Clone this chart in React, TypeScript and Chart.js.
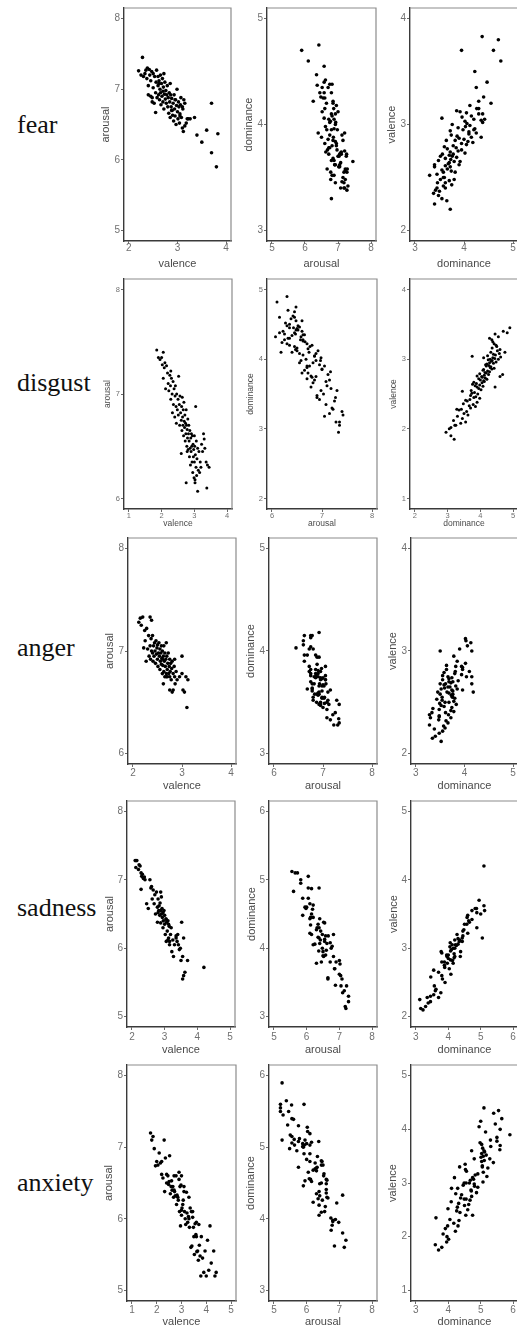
import React, { useEffect, useRef } from "react";
import { Chart, registerables } from "chart.js";

Chart.register(...registerables);

// ---------------- data ----------------
const emotions = ["fear", "disgust", "anger", "sadness", "anxiety"];
const dimensionNames = ["valence", "arousal", "dominance"];

// tick labels per emotion row
const valenceTicks = [[2, 3, 4], [1, 2, 3, 4], [2, 3, 4], [2, 3, 4, 5], [1, 2, 3, 4, 5]];
const arousalTicks = [[5, 6, 7, 8], [6, 7, 8], [6, 7, 8], [5, 6, 7, 8], [5, 6, 7, 8]];
const dominanceTicks = [[3, 4, 5], [2, 3, 4, 5], [3, 4, 5], [3, 4, 5, 6], [3, 4, 5, 6]];

const fearValence = [
  2.20, 2.28, 2.25, 2.30, 2.33, 2.35, 2.37, 2.38, 2.40, 2.40,
  2.42, 2.43, 2.45, 2.45, 2.47, 2.48, 2.50, 2.50, 2.52, 2.53,
  2.55, 2.55, 2.56, 2.57, 2.58, 2.60, 2.60, 2.61, 2.62, 2.63,
  2.64, 2.65, 2.65, 2.66, 2.67, 2.68, 2.69, 2.70, 2.70, 2.71,
  2.72, 2.73, 2.74, 2.75, 2.76, 2.77, 2.78, 2.79, 2.80, 2.81,
  2.82, 2.83, 2.84, 2.85, 2.86, 2.87, 2.88, 2.89, 2.90, 2.91,
  2.92, 2.93, 2.94, 2.95, 2.96, 2.97, 2.98, 2.99, 3.00, 3.01,
  3.02, 3.03, 3.04, 3.05, 3.06, 3.07, 3.08, 3.10, 3.11, 3.12,
  3.13, 3.15, 3.20, 3.22, 3.26, 3.35, 3.40, 3.50, 3.60, 3.70,
  3.70, 3.80, 3.83, 3.10, 3.15, 3.05, 2.95, 2.88, 3.18, 2.62,
  2.72, 2.85, 2.48,
];
const fearArousal = [
  7.26, 7.45, 7.20, 7.18, 7.22, 7.27, 7.15, 7.30, 7.05, 6.92,
  7.28, 7.20, 6.90, 7.12, 7.25, 6.88, 7.22, 7.02, 6.80, 7.18,
  6.95, 6.67, 7.10, 7.27, 6.88, 7.05, 7.18, 6.92, 7.12, 6.85,
  7.00, 7.20, 6.95, 6.78, 7.08, 6.90, 7.15, 6.97, 6.82, 7.03,
  6.72, 6.93, 7.10, 6.86, 6.98, 6.80, 6.92, 7.05, 6.75, 6.88,
  6.66, 6.95, 6.82, 6.60, 6.92, 6.75, 6.87, 6.70, 6.63, 6.80,
  6.55, 6.92, 6.72, 6.62, 6.85, 6.50, 6.77, 7.00, 6.68, 6.58,
  6.82, 6.75, 6.52, 6.65, 6.78, 6.88, 6.60, 6.45, 6.72, 6.40,
  6.85, 6.48, 6.58, 6.58, 6.58, 6.60, 6.35, 6.25, 6.42, 6.80,
  6.10, 5.90, 6.37, 6.75, 6.80, 6.62, 6.85, 6.70, 6.52, 7.08,
  7.22, 7.08, 6.82,
];
const fearDominance = [
  3.72, 3.65, 3.40, 3.55, 3.48, 3.38, 3.50, 3.42, 3.62, 3.45,
  3.58, 3.75, 3.62, 3.46, 3.70, 3.52, 3.58, 3.60, 3.30, 3.45,
  3.82, 3.58, 3.74, 3.55, 3.66, 3.72, 3.40, 3.62, 3.90, 3.68,
  3.70, 3.92, 3.80, 3.48, 3.73, 3.62, 3.85, 3.76, 3.52, 3.70,
  3.78, 4.02, 3.72, 3.88, 3.95, 3.66, 3.84, 3.60, 3.78, 4.05,
  3.95, 4.18, 4.08, 3.82, 4.00, 3.90, 4.15, 3.86, 3.74, 4.10,
  4.25, 4.10, 3.72, 3.98, 4.22, 3.88, 4.03, 4.12, 3.76, 4.06,
  4.38, 4.02, 4.35, 4.20, 3.55, 3.96, 4.15, 4.30, 4.05, 3.92,
  3.85, 4.26, 4.55, 4.30, 4.40, 4.25, 4.47, 4.22, 4.75, 3.95,
  4.60, 4.70, 4.37, 4.38, 4.30, 4.42, 4.20, 4.35, 4.12, 3.40,
  3.56, 3.64, 3.80,
];

const disgustValence = [
  1.85, 1.90, 1.95, 2.00, 2.02, 2.05, 2.05, 2.08, 2.10, 2.12,
  2.15, 2.18, 2.20, 2.22, 2.25, 2.27, 2.28, 2.30, 2.32, 2.33,
  2.35, 2.36, 2.38, 2.40, 2.41, 2.42, 2.44, 2.45, 2.46, 2.48,
  2.50, 2.51, 2.52, 2.54, 2.55, 2.56, 2.58, 2.60, 2.61, 2.62,
  2.63, 2.64, 2.65, 2.66, 2.67, 2.68, 2.69, 2.70, 2.71, 2.72,
  2.73, 2.74, 2.75, 2.76, 2.77, 2.78, 2.79, 2.80, 2.81, 2.82,
  2.83, 2.84, 2.85, 2.86, 2.87, 2.88, 2.89, 2.90, 2.91, 2.92,
  2.93, 2.94, 2.95, 2.96, 2.97, 2.98, 2.99, 3.00, 3.00, 3.01,
  3.02, 3.03, 3.04, 3.05, 3.06, 3.07, 3.08, 3.10, 3.10, 3.12,
  3.14, 3.16, 3.18, 3.20, 3.22, 3.25, 3.28, 3.30, 3.32, 3.36,
  3.40, 3.45, 2.75, 2.78, 2.60, 3.38, 2.28, 3.02,
];
const disgustArousal = [
  7.42, 7.35, 7.33, 7.35, 7.28, 7.40, 7.15, 7.25, 7.30, 7.05,
  7.27, 7.20, 7.10, 7.03, 7.18, 7.08, 6.95, 7.15, 7.00, 6.82,
  7.12, 6.90, 7.05, 6.78, 6.98, 7.08, 6.88, 6.72, 7.00, 6.85,
  6.95, 6.80, 7.17, 6.90, 6.70, 6.98, 6.82, 6.75, 6.88, 6.65,
  6.97, 6.78, 6.70, 6.85, 6.60, 6.92, 6.74, 6.68, 6.80, 6.55,
  6.72, 6.62, 6.85, 6.70, 6.50, 6.66, 6.58, 6.76, 6.47, 6.62,
  6.70, 6.55, 6.40, 6.65, 6.48, 6.32, 6.58, 6.45, 6.62, 6.50,
  6.35, 6.60, 6.25, 6.52, 6.40, 6.47, 6.20, 6.60, 6.35, 6.50,
  6.15, 6.42, 6.88, 6.30, 6.55, 6.22, 6.38, 6.07, 6.48, 6.27,
  6.45, 6.25, 6.35, 6.30, 6.52, 6.45, 6.62, 6.57, 6.48, 6.35,
  6.32, 6.30, 6.15, 6.45, 6.43, 6.10, 7.22, 6.18,
];
const disgustDominance = [
  3.20, 3.10, 2.95, 3.05, 3.10, 3.25, 3.22, 3.40, 3.55, 3.18,
  3.45, 3.30, 3.62, 3.50, 3.58, 3.35, 3.42, 3.70, 3.85, 3.66,
  3.78, 3.48, 3.90, 3.60, 3.55, 3.68, 3.98, 3.80, 3.86, 3.70,
  3.92, 3.74, 3.82, 3.45, 3.72, 4.02, 3.95, 3.90, 4.08, 3.84,
  3.98, 3.76, 3.88, 4.05, 3.80, 4.12, 4.10, 4.00, 4.20, 3.95,
  4.15, 4.06, 4.04, 3.90, 4.12, 4.25, 3.98, 4.18, 4.14, 4.28,
  4.22, 4.08, 4.10, 4.35, 4.42, 4.30, 4.32, 4.18, 4.26, 4.16,
  4.20, 4.40, 4.28, 4.48, 4.34, 4.36, 4.24, 4.55, 4.30, 4.44,
  4.38, 4.62, 3.75, 4.22, 4.46, 4.40, 4.58, 4.32, 4.75, 4.52,
  4.60, 4.36, 4.50, 4.48, 4.42, 4.38, 4.35, 4.28, 4.55, 4.45,
  4.70, 4.90, 4.60, 4.68, 4.45, 4.82, 3.28, 4.10,
];

const angerValence = [
  2.12, 2.15, 2.17, 2.20, 2.22, 2.24, 2.25, 2.27, 2.28, 2.30,
  2.32, 2.33, 2.35, 2.35, 2.36, 2.37, 2.38, 2.40, 2.40, 2.41,
  2.42, 2.43, 2.44, 2.45, 2.46, 2.47, 2.48, 2.49, 2.50, 2.50,
  2.51, 2.52, 2.53, 2.54, 2.55, 2.55, 2.56, 2.57, 2.58, 2.58,
  2.59, 2.60, 2.60, 2.61, 2.62, 2.63, 2.63, 2.64, 2.65, 2.65,
  2.66, 2.67, 2.68, 2.69, 2.70, 2.70, 2.71, 2.72, 2.73, 2.74,
  2.75, 2.75, 2.76, 2.77, 2.78, 2.79, 2.80, 2.80, 2.82, 2.82,
  2.84, 2.85, 2.86, 2.88, 2.90, 2.95, 3.00, 3.02, 3.05, 3.08,
  3.10, 3.12, 2.68, 2.75, 2.68, 2.60, 3.00, 2.38, 2.85, 2.62,
];
const angerArousal = [
  7.28, 7.32, 7.25, 7.33, 7.03, 7.20, 7.10, 6.90, 7.22, 7.02,
  7.15, 6.95, 7.33, 7.05, 6.92, 7.12, 7.00, 6.98, 7.15, 6.90,
  7.05, 6.95, 7.08, 7.00, 6.88, 7.10, 6.97, 7.03, 6.92, 7.06,
  6.85, 6.98, 7.08, 6.95, 6.82, 7.02, 6.90, 6.98, 6.87, 7.05,
  6.93, 6.78, 7.00, 6.86, 6.95, 6.80, 7.05, 6.90, 6.75, 6.98,
  6.85, 6.92, 6.78, 6.95, 6.82, 6.75, 6.88, 6.98, 6.78, 6.85,
  6.75, 6.92, 6.80, 6.88, 6.72, 6.83, 6.60, 6.90, 6.78, 6.62,
  6.85, 6.75, 6.68, 6.80, 6.72, 6.75, 6.78, 6.62, 6.60, 6.75,
  6.45, 6.72, 7.08, 6.62, 6.75, 6.92, 6.95, 7.30, 6.92, 6.68,
];
const angerDominance = [
  3.52, 3.34, 3.40, 3.48, 3.55, 3.38, 3.60, 3.57, 3.28, 3.66,
  3.62, 3.47, 3.30, 3.72, 3.48, 3.48, 3.67, 3.61, 3.33, 3.78,
  3.72, 3.48, 3.35, 3.74, 3.58, 3.52, 3.83, 3.49, 3.60, 3.68,
  3.78, 3.54, 3.43, 3.80, 3.75, 3.54, 3.75, 3.73, 3.50, 3.76,
  3.68, 3.64, 3.45, 3.76, 3.74, 3.52, 3.85, 3.59, 3.70, 3.66,
  3.82, 3.58, 3.61, 3.72, 3.68, 3.76, 3.87, 3.55, 3.68, 3.74,
  4.04, 3.66, 3.55, 3.94, 3.80, 3.58, 4.10, 3.81, 3.63, 3.96,
  3.96, 3.82, 3.63, 4.02, 3.85, 3.78, 4.15, 3.90, 4.06, 4.13,
  4.03, 4.02, 3.50, 4.15, 4.15, 4.18, 3.50, 3.28, 3.94, 3.96,
];

const sadnessValence = [
  2.10, 2.12, 2.15, 2.20, 2.22, 2.25, 2.28, 2.28, 2.30, 2.32,
  2.35, 2.38, 2.45, 2.50, 2.55, 2.58, 2.62, 2.65, 2.68, 2.70,
  2.72, 2.75, 2.78, 2.78, 2.80, 2.80, 2.82, 2.83, 2.85, 2.86,
  2.88, 2.88, 2.90, 2.90, 2.92, 2.93, 2.95, 2.96, 2.98, 3.00,
  3.00, 3.02, 3.04, 3.05, 3.06, 3.08, 3.10, 3.10, 3.12, 3.14,
  3.15, 3.18, 3.20, 3.22, 3.25, 3.27, 3.30, 3.35, 3.38, 3.40,
  3.42, 3.45, 3.48, 3.50, 3.52, 3.55, 3.55, 3.58, 3.58, 3.62,
  3.70, 4.20, 3.15, 2.40, 2.88, 3.05, 2.95, 3.35, 2.60, 3.12,
];
const sadnessArousal = [
  7.28, 7.18, 7.28, 7.15, 7.22, 7.20, 6.86, 7.10, 7.05, 7.08,
  7.02, 7.04, 6.65, 6.58, 7.00, 6.88, 6.72, 6.85, 6.65, 6.78,
  6.50, 6.82, 6.60, 6.38, 6.72, 6.52, 6.55, 6.62, 6.48, 6.66,
  6.55, 6.37, 6.75, 6.50, 6.58, 6.45, 6.52, 6.40, 6.55, 6.35,
  6.48, 6.20, 6.43, 6.10, 6.38, 6.25, 6.12, 6.40, 6.15, 6.32,
  6.10, 6.20, 6.30, 5.95, 6.12, 5.88, 6.05, 6.18, 6.10, 6.20,
  6.05, 5.98, 6.00, 5.82, 6.38, 5.88, 5.55, 6.15, 5.60, 5.65,
  5.82, 5.72, 6.05, 7.00, 6.82, 6.42, 6.30, 6.15, 6.90, 6.35,
];
const sadnessDominance = [
  3.22, 3.15, 3.30, 3.38, 3.45, 3.12, 3.70, 3.35, 3.45, 3.55,
  3.77, 3.60, 3.57, 3.90, 3.82, 3.46, 4.08, 3.70, 3.55, 4.03,
  3.89, 3.88, 3.97, 4.15, 3.80, 3.88, 4.13, 4.07, 4.00, 4.18,
  4.37, 3.96, 4.00, 3.95, 4.18, 3.80, 4.38, 4.07, 4.10, 4.16,
  4.20, 4.05, 4.25, 4.22, 4.30, 4.06, 4.34, 4.43, 4.20, 4.30,
  4.43, 4.45, 4.27, 4.60, 4.45, 4.48, 4.88, 4.57, 4.65, 4.63,
  4.73, 4.58, 4.60, 5.00, 4.88, 4.73, 5.12, 4.87, 4.83, 5.10,
  4.95, 5.10, 5.05, 3.62, 4.20, 4.12, 3.78, 4.50, 3.80, 4.35,
];

const anxietyValence = [
  1.75, 1.80, 1.85, 1.95, 2.00, 2.05, 2.10, 2.15, 2.20, 2.25,
  2.30, 2.32, 2.35, 2.40, 2.45, 2.48, 2.50, 2.52, 2.55, 2.58,
  2.60, 2.62, 2.65, 2.68, 2.70, 2.72, 2.75, 2.78, 2.80, 2.82,
  2.85, 2.87, 2.90, 2.92, 2.94, 2.96, 2.98, 3.00, 3.00, 3.02,
  3.05, 3.07, 3.10, 3.12, 3.15, 3.17, 3.20, 3.22, 3.25, 3.28,
  3.30, 3.32, 3.35, 3.38, 3.40, 3.42, 3.45, 3.48, 3.50, 3.52,
  3.55, 3.58, 3.60, 3.62, 3.65, 3.68, 3.70, 3.72, 3.75, 3.78,
  3.80, 3.85, 3.90, 3.95, 4.00, 4.05, 4.10, 4.15, 4.20, 4.30,
  4.35, 4.40, 2.90, 3.10, 2.70, 3.30, 3.60, 2.40, 3.45, 3.00,
  1.90, 2.20,
];
const anxietyArousal = [
  7.20, 7.10, 7.15, 6.74, 6.80, 6.75, 6.92, 6.78, 6.80, 6.57,
  7.10, 6.38, 6.85, 6.62, 6.60, 6.48, 6.52, 6.88, 6.35, 6.45,
  6.53, 6.40, 6.45, 6.30, 6.40, 6.38, 6.32, 6.60, 6.20, 6.33,
  6.30, 6.26, 6.65, 6.10, 6.45, 5.90, 6.47, 6.60, 6.12, 6.15,
  6.20, 6.26, 6.38, 6.10, 6.00, 5.92, 6.37, 6.08, 5.95, 6.03,
  6.00, 5.88, 6.15, 5.60, 6.10, 5.62, 6.02, 5.88, 5.75, 5.50,
  5.93, 5.78, 5.75, 5.54, 5.55, 5.42, 5.92, 5.63, 5.48, 5.20,
  5.75, 5.45, 5.25, 5.55, 5.20, 5.70, 5.28, 5.90, 5.38, 5.55,
  5.20, 5.25, 6.55, 6.45, 6.60, 6.30, 5.95, 6.50, 6.10, 6.05,
  6.98, 6.62,
];
const anxietyDominance = [
  3.70, 3.80, 3.60, 4.01, 3.96, 3.84, 4.22, 3.91, 3.98, 4.17,
  4.33, 4.05, 3.62, 4.54, 4.36, 4.26, 4.60, 3.99, 4.28, 4.50,
  4.63, 4.32, 4.09, 4.67, 4.49, 4.38, 4.72, 4.41, 4.23, 4.87,
  4.71, 4.70, 4.29, 4.91, 4.81, 4.46, 4.80, 4.49, 4.55, 5.07,
  4.68, 4.78, 4.19, 5.19, 4.83, 4.91, 5.08, 4.56, 4.53, 5.22,
  5.05, 5.05, 4.52, 5.39, 5.03, 5.11, 5.28, 5.01, 5.08, 5.17,
  5.03, 5.12, 4.72, 5.59, 5.06, 5.31, 5.60, 5.03, 4.98, 5.50,
  5.30, 5.50, 5.90, 5.15, 5.60, 4.95, 5.45, 5.00, 5.65, 5.40,
  5.55, 5.10, 4.10, 4.75, 4.55, 4.35, 5.10, 4.75, 4.80, 4.65,
  3.95, 4.30,
];

// [valence, arousal, dominance] per emotion row
const emotionData = [
  [fearValence, fearArousal, fearDominance],
  [disgustValence, disgustArousal, disgustDominance],
  [angerValence, angerArousal, angerDominance],
  [sadnessValence, sadnessArousal, sadnessDominance],
  [anxietyValence, anxietyArousal, anxietyDominance],
];
const dimensionTicks = [valenceTicks, arousalTicks, dominanceTicks];
// columns: [x dimension, y dimension]
const panelDims = [[0, 1], [1, 2], [2, 0]];

// ---------------- layout ----------------
const ROW_BOX = [[8, 241], [279, 509], [538, 764], [801, 1027], [1065, 1301]];
const COL_BOX = [
  [[124, 231], [267, 376], [410, 518]],
  [[124, 232], [267, 377], [410, 518]],
  [[128, 236], [269, 377], [411, 518]],
  [[127, 235], [269, 377], [411, 518]],
  [[127, 236], [269, 377], [411, 518]],
];
const ROW_STYLE = [
  { tick: 10, title: 11, tickGap: 7, titleGap: 22, yTitleGap: 18, r: 1.8 },
  { tick: 7.5, title: 8.5, tickGap: 7, titleGap: 15, yTitleGap: 17, r: 1.5 },
  { tick: 10, title: 11, tickGap: 9, titleGap: 21, yTitleGap: 18, r: 1.8 },
  { tick: 10, title: 11, tickGap: 10, titleGap: 22, yTitleGap: 17, r: 1.8 },
  { tick: 10, title: 11, tickGap: 9, titleGap: 20, yTitleGap: 18, r: 1.8 },
];
const LABEL_Y = [128, 386, 651, 911, 1186];
const FONT = "'Liberation Sans', Arial, Helvetica, sans-serif";

const framePlugin = {
  id: "frame",
  afterDatasetsDraw(chart: any) {
    const { ctx, chartArea: a } = chart;
    ctx.save();
    ctx.strokeStyle = "#8c8c8c";
    ctx.lineWidth = 1.2;
    ctx.beginPath();
    ctx.moveTo(a.left, a.top);
    ctx.lineTo(a.right, a.top);
    ctx.lineTo(a.right, a.bottom);
    ctx.stroke();
    ctx.restore();
  },
};

function Panel({ row, col }: { row: number; col: number }) {
  const ref = useRef<HTMLCanvasElement>(null);
  const [xd, yd] = panelDims[col];
  const [T, B] = ROW_BOX[row];
  const [L, R] = COL_BOX[row][col];
  const st = ROW_STYLE[row];
  const padTop = 4;
  const padRight = 6;
  const W = Math.round(st.yTitleGap + st.title / 2);
  const H = Math.round(st.titleGap + st.title / 2);
  const cw = R - L + W + padRight;
  const ch = B - T + padTop + H;

  useEffect(() => {
    if (!ref.current) return;
    const xs = emotionData[row][xd];
    const ys = emotionData[row][yd];
    const pts = xs.map((x, i) => ({ x, y: ys[i] }));

    const makeAxis = (d: number, isX: boolean) => {
      const tv = dimensionTicks[d][row];
      const lo = tv[0];
      const hi = tv[tv.length - 1];
      const e = (hi - lo) * 0.05;
      return {
        type: "linear",
        position: isX ? "bottom" : "left",
        min: lo - e,
        max: hi + e,
        afterBuildTicks: (s: any) => {
          s.ticks = tv.map((v) => ({ value: v }));
        },
        afterFit: (s: any) => {
          if (isX) s.height = H;
          else s.width = W;
          s.paddingTop = 0;
          s.paddingBottom = 0;
          s.paddingLeft = 0;
          s.paddingRight = 0;
        },
        grid: {
          display: true,
          drawOnChartArea: false,
          drawTicks: true,
          tickLength: 3,
          color: "#6a6a6a",
          lineWidth: 1,
        },
        border: { display: true, color: "#3a3a3a", width: 1.4 },
        ticks: {
          padding: isX ? st.tickGap - 3 - st.tick / 2 : 1,
          color: "#707070",
          font: { family: FONT, size: st.tick, lineHeight: 1 },
          maxRotation: 0,
          autoSkip: false,
        },
        title: {
          display: true,
          text: dimensionNames[d],
          color: "#4a4a4a",
          font: { family: FONT, size: st.title, lineHeight: 1 },
          padding: 0,
        },
      };
    };

    const chart = new Chart(ref.current, {
      type: "scatter",
      data: {
        datasets: [
          {
            data: pts,
            pointRadius: st.r,
            pointHoverRadius: st.r,
            pointBackgroundColor: "#000",
            pointBorderColor: "#000",
            pointBorderWidth: 0,
          },
        ],
      },
      options: {
        animation: false,
        responsive: false,
        devicePixelRatio: 1,
        events: [],
        layout: { padding: { top: padTop, right: padRight, left: 0, bottom: 0 } },
        plugins: { legend: { display: false }, tooltip: { enabled: false } },
        scales: { x: makeAxis(xd, true), y: makeAxis(yd, false) } as any,
      },
      plugins: [framePlugin],
    } as any);
    return () => chart.destroy();
  }, [row, col]);

  return (
    <canvas
      ref={ref}
      width={cw}
      height={ch}
      style={{ position: "absolute", left: L - W, top: T - padTop, width: cw, height: ch }}
    />
  );
}

export default function App() {
  return (
    <div
      style={{
        position: "absolute",
        left: 0,
        top: 0,
        width: 517,
        height: 1331,
        overflow: "hidden",
        background: "#ffffff",
      }}
    >
      {emotions.map((name, i) => (
        <div
          key={name}
          style={{
            position: "absolute",
            left: 17,
            top: LABEL_Y[i] - 16,
            fontFamily: "'Liberation Serif', 'Times New Roman', serif",
            fontSize: 26,
            lineHeight: "26px",
            color: "#111",
            whiteSpace: "nowrap",
          }}
        >
          {name}
        </div>
      ))}
      {emotions.map((name, r) =>
        [0, 1, 2].map((c) => <Panel key={name + c} row={r} col={c} />)
      )}
    </div>
  );
}
